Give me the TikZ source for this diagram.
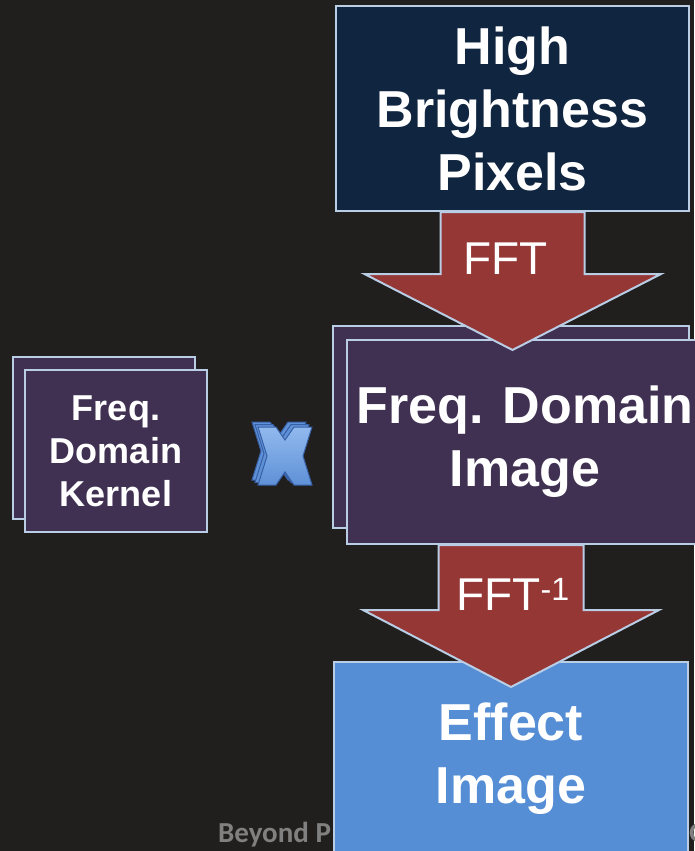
\documentclass[tikz,border=0pt]{standalone}
\usepackage{fontspec}
\setmainfont{Liberation Sans}
\newfontfamily\footfont{Carlito}
\usetikzlibrary{calc,positioning}

\definecolor{bgdark}{RGB}{33,31,30}
\definecolor{navybox}{RGB}{16,37,63}
\definecolor{edgeblue}{RGB}{185,205,229}
\definecolor{purplebox}{RGB}{64,49,82}
\definecolor{arrowred}{RGB}{149,55,53}
\definecolor{effectblue}{RGB}{85,142,213}
\definecolor{footgray}{RGB}{128,128,128}
\definecolor{xback}{RGB}{95,145,215}
\definecolor{xlight}{RGB}{145,185,238}
\definecolor{xedge}{RGB}{55,95,165}

\tikzset{
  stagebox/.style={draw=edgeblue,line width=2pt,inner sep=0pt,anchor=north west,
    text=white,align=center,font=\bfseries\fontsize{52}{63}\selectfont},
  kernelbox/.style={stagebox,minimum width=182pt,minimum height=162pt,fill=purplebox,
    font=\bfseries\fontsize{36}{43}\selectfont},
  fftarrow/.style={draw=edgeblue,line width=2pt,fill=arrowred,line join=miter},
  fftlabel/.style={text=white,inner sep=0pt,anchor=base,font=\fontsize{46}{50}\selectfont},
  footer/.style={text=footgray,anchor=base west,inner sep=0pt,
    font=\footfont\bfseries\fontsize{29}{32}\selectfont},
  crossmark/.pic={
    \path[pic actions] (-27,-29) -- (-9,-29) -- (0,-16) -- (9,-29) -- (27,-29) -- (18,0)
      -- (27,29) -- (9,29) -- (0,16) -- (-9,29) -- (-27,29) -- (-18,0) -- cycle;
  }
}

\begin{document}
\begin{tikzpicture}[x=1pt,y=-1pt]
  \fill[bgdark] (0,0) rectangle (694,851);
  \useasboundingbox (0,0) rectangle (694,851);

  % footer, partly hidden behind the result box
  \node[footer] (footl) at (218,842) {Beyond P};
  \node[footer] (footr) at (689,842) {G};

  % main column
  \node[stagebox,fill=navybox,minimum width=353pt,minimum height=205pt] (pix) at (335,5)
    {High\\Brightness\\Pixels};
  \node[stagebox,fill=purplebox,minimum width=356pt,minimum height=202pt] (imgback) at (332,325) {};
  \node[stagebox,fill=purplebox,minimum width=356pt,minimum height=204pt] (img) at (346,339)
    {Freq. Domain\\Image};
  \node[stagebox,fill=effectblue,minimum width=354pt,minimum height=194pt] (effect) at (333,661)
    {Effect\\Image};

  % kernel stack
  \node[kernelbox] (kernback) at (12,356) {};
  \node[kernelbox] (kern) at (24,369) {Freq.\\Domain\\Kernel};

  % multiply mark
  \foreach \dx/\dy in {6/5,3/2.5}
    \pic[fill=xback,draw=xedge,line width=1pt] at (285-\dx,456-\dy) {crossmark};
  \pic[top color=xlight,bottom color=xback,draw=xedge,line width=1pt]
    (times) at (285,456) {crossmark};

  % block arrows
  \coordinate (fa) at (pix.south);
  \draw[fftarrow] ($(fa)+(-72,0)$) -- ++(0,62) -- ++(-76,0) -- ($(fa)+(0,138)$)
    -- ($(fa)+(148.5,62)$) -- ++(-76.5,0) -- ($(fa)+(72,0)$) -- cycle;
  \node[fftlabel] (fft) at ($(fa)+(-7,62)$) {FFT};

  \coordinate (fb) at (imgback.south |- img.south);
  \draw[fftarrow] ($(fb)+(-72.5,0)$) -- ++(0,65) -- ++(-75.5,0) -- ($(fb)+(0,142)$)
    -- ($(fb)+(148,65)$) -- ++(-75.5,0) -- ($(fb)+(72.5,0)$) -- cycle;
  \node[fftlabel] (ifft) at ($(fb)+(2,65)$) {FFT\textsuperscript{-1}};
\end{tikzpicture}
\end{document}
